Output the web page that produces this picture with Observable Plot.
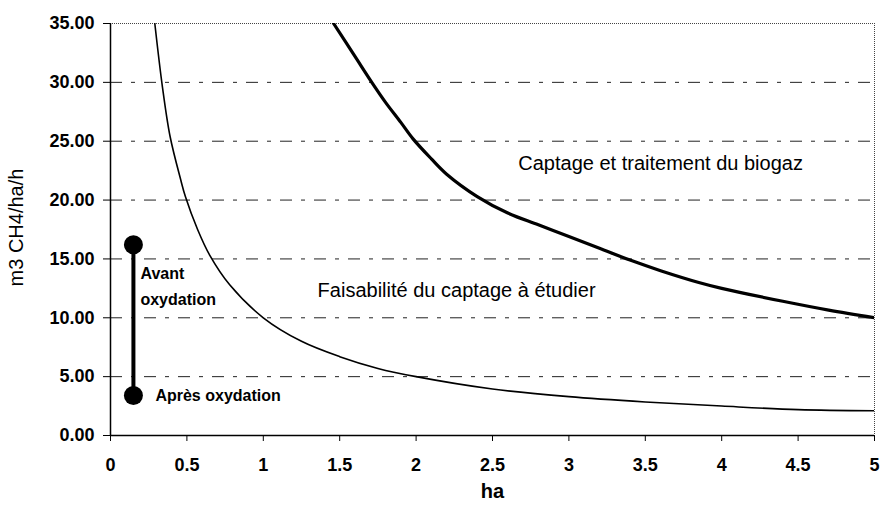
<!DOCTYPE html>
<html>
<head>
<meta charset="utf-8">
<script src="https://cdn.jsdelivr.net/npm/d3@7"></script>
<script src="https://cdn.jsdelivr.net/npm/@observablehq/plot@0.6"></script>
<style>
  html, body { margin: 0; padding: 0; background: #fff; }
  #chart svg { font-family: "Liberation Sans", Arial, sans-serif; }
</style>
</head>
<body>
<div id="chart"></div>
<script>
// Seuil bas (courbe fine)
const lowerHa = [0.29, 0.34, 0.39, 0.46, 0.49, 0.57, 0.65, 0.78, 1.0, 1.25, 1.5, 1.75, 2.0, 2.5, 3.0, 3.5, 4.0, 4.5, 5.0];
const lowerQ  = [35, 29.6, 25.4, 21.7, 20.3, 17.5, 15.3, 12.8, 10, 8.0, 6.7, 5.7, 5.0, 3.95, 3.3, 2.85, 2.5, 2.2, 2.1];
// Seuil haut (courbe épaisse)
const upperHa = [1.46, 1.6, 1.71, 1.8, 1.9, 1.98, 2.1, 2.2, 2.4, 2.6, 2.8, 3.0, 3.2, 3.4, 3.6, 3.85, 4.0, 4.4, 4.7, 5.0];
const upperQ  = [35, 32.2, 30, 28.3, 26.6, 25.2, 23.5, 22.2, 20.3, 18.9, 17.9, 16.9, 15.9, 14.9, 14.0, 13.0, 12.5, 11.4, 10.65, 10.0];
// Points avant / après oxydation
const pointHa = [0.15, 0.15];
const pointQ  = [16.2, 3.4];
// Ticks
const xTicks = [0, 0.5, 1, 1.5, 2, 2.5, 3, 3.5, 4, 4.5, 5];
const yTicks = [0, 5, 10, 15, 20, 25, 30, 35];
const gridY  = [5, 10, 15, 20, 25, 30];
// Annotations (ancrées en coordonnées de données)
const zoneLabels = [
  {x: 2.265, y: 12.3, text: "Faisabilité du captage à étudier"},
  {x: 3.6, y: 23.1, text: "Captage et traitement du biogaz"}
];

const lower = lowerHa.map((x, i) => ({x, y: lowerQ[i]}));
const upper = upperHa.map((x, i) => ({x, y: upperQ[i]}));
const pts = pointHa.map((x, i) => ({x, y: pointQ[i]}));

const boldFont = "'Liberation Sans Narrow', 'Liberation Sans', Arial, sans-serif";
const tickFont = {fontFamily: boldFont, fontSize: 18, fontWeight: "bold"};

const chart = Plot.plot({
  width: 880,
  height: 508,
  marginLeft: 110,
  marginRight: 6,
  marginTop: 23,
  marginBottom: 73,
  x: {domain: [0, 5]},
  y: {domain: [0, 35]},
  marks: [
    Plot.ruleY(gridY, {stroke: "#222", strokeWidth: 1, strokeDasharray: "12,9,4,9"}),
    Plot.ruleY([35], {stroke: "#444", strokeWidth: 1, strokeDasharray: "1,1"}),
    Plot.ruleX([5], {stroke: "#444", strokeWidth: 1, strokeDasharray: "1,1"}),
    Plot.ruleX([0], {stroke: "#000", strokeWidth: 1.5}),
    Plot.ruleY([0], {stroke: "#000", strokeWidth: 1.5}),
    Plot.axisY({ticks: yTicks, tickFormat: d => d.toFixed(2), tickSize: 7, tickPadding: 9, label: null, stroke: "#000", ...tickFont, style: "letter-spacing:2px"}),
    Plot.axisX({ticks: xTicks, tickFormat: d => String(d), tickSize: 6, tickPadding: 17, label: null, stroke: "#000", ...tickFont}),
    Plot.line(lower, {x: "x", y: "y", curve: "catmull-rom", stroke: "#000", strokeWidth: 1.6, clip: true}),
    Plot.line(upper, {x: "x", y: "y", curve: "catmull-rom", stroke: "#000", strokeWidth: 3.2, clip: true}),
    Plot.line(pts, {x: "x", y: "y", stroke: "#000", strokeWidth: 4}),
    Plot.dot(pts, {x: "x", y: "y", r: 9.5, fill: "#000", stroke: "none"}),
    Plot.text(zoneLabels, {x: "x", y: "y", text: "text", fontSize: 20, fill: "#000", style: "letter-spacing:1px"}),
    Plot.text(["Avant", "oxydation"], {x: [0.15, 0.15], y: [13.7, 11.55], text: d => d, textAnchor: "start", dx: 7, fontSize: 16, fontWeight: "bold", fill: "#000", fontFamily: boldFont, style: "letter-spacing:1.5px"}),
    Plot.text(["Après oxydation"], {x: [pointHa[1]], y: [pointQ[1]], text: d => d, textAnchor: "start", dx: 22, fontSize: 16, fontWeight: "bold", fill: "#000", fontFamily: boldFont, style: "letter-spacing:1.5px"}),
    Plot.text(["m3 CH4/ha/h"], {frameAnchor: "left", textAnchor: "middle", dx: -94, dy: -2, rotate: -90, text: d => d, fontSize: 20, fill: "#000", style: "letter-spacing:1px"}),
    Plot.text(["ha"], {frameAnchor: "bottom", textAnchor: "middle", dy: 62, text: d => d, fontSize: 20, fontWeight: "bold", fill: "#000", fontFamily: boldFont})
  ]
});
document.getElementById("chart").appendChild(chart);
</script>
</body>
</html>
